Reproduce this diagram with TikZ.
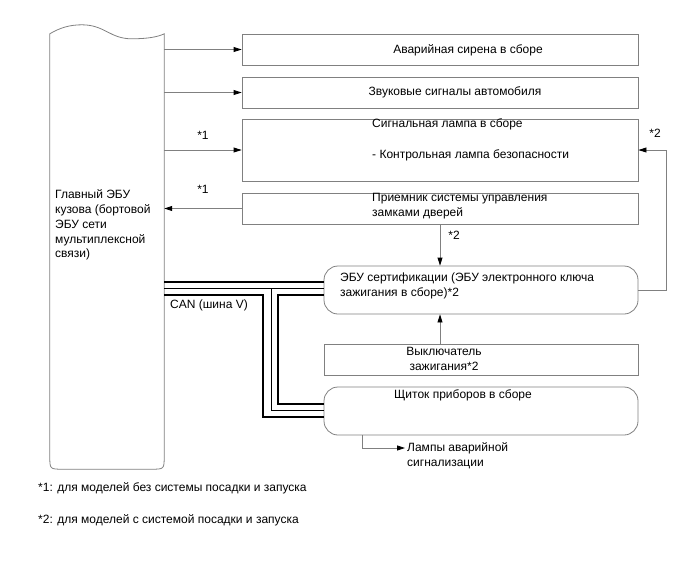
\documentclass[tikz,border=0pt]{standalone}
\usepackage{fontspec}
\setmainfont{Liberation Sans}
\usetikzlibrary{arrows.meta,positioning,calc}
\definecolor{ecugray}{RGB}{128,128,128}

\begin{document}
\begin{tikzpicture}[x=1pt, y=-1pt, font=\fontsize{12}{14.8}\selectfont]
    % Define styles
    \tikzstyle{unit} = [rectangle, draw=ecugray, line width=0.8pt, inner sep=0pt, minimum height=31pt]
    \tikzstyle{ecu} = [unit, rounded corners=14pt, minimum width=314pt, minimum height=48pt]
    \tikzstyle{lbl} = [inner sep=0pt, align=left]
    \tikzstyle{sig} = [draw=ecugray, line width=0.8pt, -{Triangle[length=8pt,width=5pt,color=black]}]
    \tikzstyle{canhi} = [line width=2.8pt, line join=miter]
    \tikzstyle{canlo} = [line width=0.9pt, line join=miter]

    \useasboundingbox (0,0) rectangle (688,560);

    % Nodes
    \node[minimum width=114pt, minimum height=435pt, inner sep=0pt] (bcm) at (107,251.5) {};
    \node[unit, minimum width=396pt] (siren) at (440,49.5) {};
    \node[unit, minimum width=396pt] (horn) at (440,92.5) {};
    \node[unit, minimum width=396pt, minimum height=62pt] (lamp) at (440,150) {};
    \node[unit, minimum width=396pt] (recv) at (440,208.5) {};
    \node[ecu] (cert) at (481,290) {};
    \node[unit, minimum width=314pt] (sw) at (481,359.5) {};
    \node[ecu] (clus) at (481,411) {};

    \draw[draw=ecugray, line width=0.8pt] (bcm.north west)
        .. controls +(10,-6) and +(-12,0) .. ++(32,-9)
        .. controls +(23,0) and +(-22,0) .. ++(50,14)
        .. controls +(16,0) and +(-6,3) .. (bcm.north east)
        -- ([yshift=13pt]bcm.south east) .. controls (bcm.south east) .. ([xshift=-13pt]bcm.south east)
        -- ([xshift=13pt]bcm.south west) .. controls (bcm.south west) .. ([yshift=13pt]bcm.south west)
        -- cycle;

    % Texts
    \node[lbl, anchor=west] (bcmT) at (55,225) {Главный ЭБУ\\кузова (бортовой\\ЭБУ сети\\мультиплексной\\связи)};
    \node[lbl] (sirenT) at (468,50) {Аварийная сирена в сборе};
    \node[lbl] (hornT) at (455,92) {Звуковые сигналы автомобиля};
    \node[lbl, anchor=west] (lampT) at (372,139.5) {Сигнальная лампа в сборе\\[16pt]- Контрольная лампа безопасности};
    \node[lbl, anchor=west] (recvT) at (372,206) {Приемник системы управления\\замками дверей};
    \node[lbl, anchor=west] (certT) at (340,286) {ЭБУ сертификации (ЭБУ электронного ключа\\зажигания в сборе)*2};
    \node[lbl, align=center] (swT) at (444,359) {Выключатель\\зажигания*2};
    \node[lbl] (clusT) at (463,395) {Щиток приборов в сборе};
    \node[lbl, anchor=west] (hazT) at (407,456) {Лампы аварийной\\сигнализации};

    % Connections
    \draw[sig] (bcm.east |- siren.west) -- (siren.west);
    \draw[sig] (bcm.east |- horn.west) -- (horn.west);
    \draw[sig] (bcm.east |- lamp.west) -- (lamp.west);
    \draw[sig] (recv.west) -- (bcm.east |- recv.west);
    \draw[sig] (recv.south) -- (recv.south |- cert.north);
    \draw[sig] (recv.south |- sw.north) -- (recv.south |- cert.south);
    \draw[sig] (cert.east) -- ++(28,0) |- (lamp.east);
    \coordinate (hzx) at (362,0);
    \coordinate (hz) at (405,448);
    \draw[sig] (clus.south -| hzx) |- (hz);

    % CAN bus
    \coordinate (ca) at ([yshift=8pt]cert.west);
    \coordinate (cb) at ([yshift=2pt]cert.west);
    \coordinate (cc) at ([yshift=-5pt]cert.west);
    \coordinate (ka) at ([yshift=7pt]clus.west);
    \coordinate (kb) at ([yshift=1pt]clus.west);
    \coordinate (kc) at ([yshift=-6pt]clus.west);
    \draw[canhi] (bcm.east |- ca) -- (ca);
    \draw[canlo] (bcm.east |- cb) -- (cb);
    \draw[canhi] (bcm.east |- cc) -| (263,417) -- (kc);
    \draw[canlo] (271,288) |- (kb);
    \draw[canhi] (cc) -| (278,404) -- (ka);

    % Annotations
    \node[lbl] (star1a) at (203,135) {*1};
    \node[lbl] (star1b) at (203,189) {*1};
    \node[lbl] (star2a) at (454,235) {*2};
    \node[lbl] (star2b) at (655,133) {*2};
    \node[lbl, anchor=west] (canT) at (170,305) {CAN (шина V)};
    \node[lbl, anchor=west] (note1) at (38,488) {*1: для моделей без системы посадки и запуска};
    \node[lbl, anchor=west] (note2) at (38,520) {*2: для моделей с системой посадки и запуска};
\end{tikzpicture}
\end{document}
